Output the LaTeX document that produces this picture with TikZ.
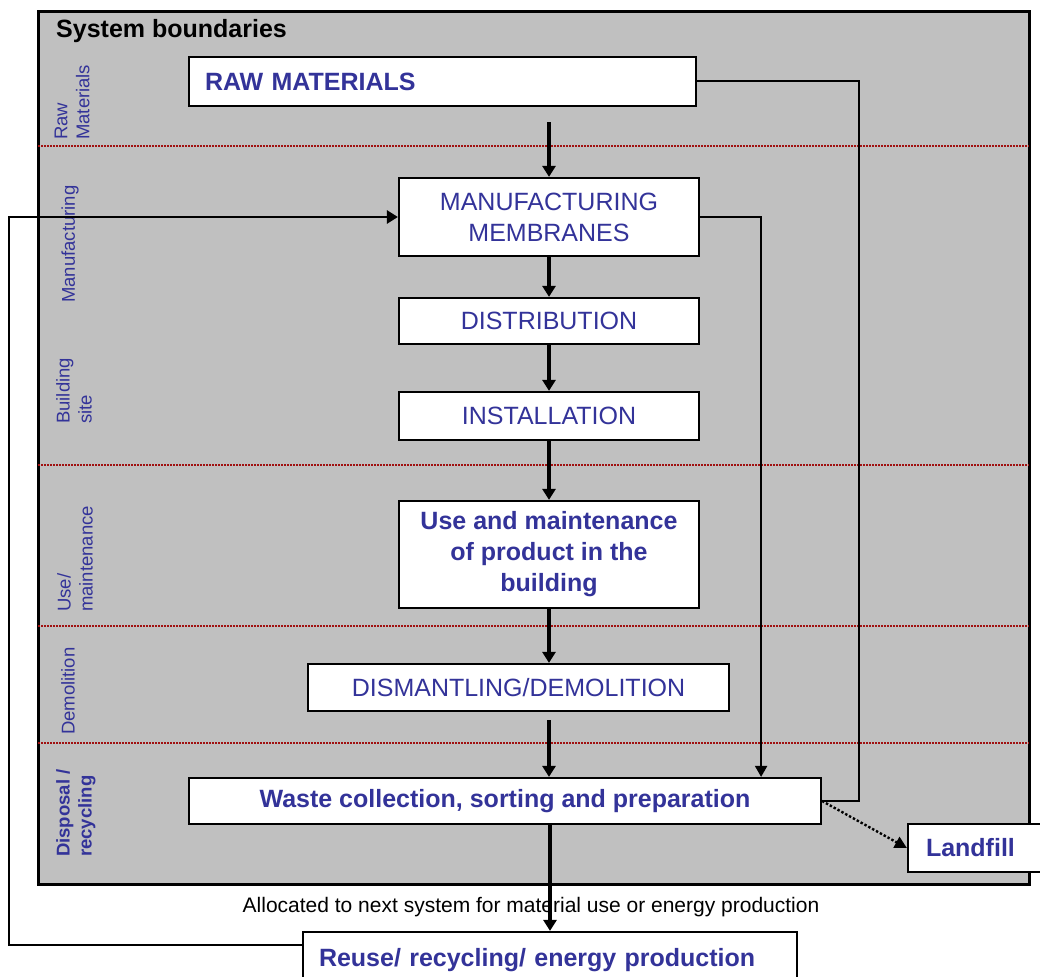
\documentclass[tikz,border=0pt]{standalone}
\usepackage{fontspec}
\setmainfont{Liberation Sans}
\usetikzlibrary{arrows.meta,positioning,calc}
\definecolor{PhaseGrey}{HTML}{C0C0C0}
\definecolor{StepBlue}{HTML}{333399}
\definecolor{PhaseRed}{HTML}{A01010}

\begin{document}
\begin{tikzpicture}[x=1pt,y=-1pt,
    stage/.style={draw=black,line width=2.2pt,fill=white,inner sep=0pt,align=center,
                  text=StepBlue,font=\fontsize{25}{31}\selectfont},
    boldstage/.style={stage,font=\fontsize{25}{31}\selectfont\bfseries},
    phase/.style={rotate=90,anchor=west,align=left,inner sep=0pt,text=StepBlue,
                  font=\fontsize{18.5}{22}\selectfont},
    divider/.style={draw=PhaseRed,line width=1.6pt,dash pattern=on 2pt off 1pt},
    flow/.style={draw=black,line width=3.2pt,-{Triangle[length=11pt,width=13pt]}},
    side/.style={draw=black,line width=2pt},
    sidearr/.style={side,-{Triangle[length=11pt,width=12pt]}},
    dotarr/.style={draw=black,line width=2.4pt,dotted,-{Triangle[length=12pt,width=12pt]}}]
  \useasboundingbox (0,0) rectangle (1040,976);
  \clip (0,0) rectangle (1040,976);
  % system boundaries
  \filldraw[fill=PhaseGrey,draw=black,line width=3pt] (38,12) rectangle (1029,884);
  \node[anchor=west,inner sep=0pt,font=\fontsize{25}{30}\selectfont\bfseries] (title) at (56,31) {System boundaries};
  \foreach \y in {146,465,626,743}
    \draw[divider] (38,\y) -- (1029,\y);
  % life cycle phases
  \node[phase] (rawlbl)   at (72,140) {Raw\\Materials};
  \node[phase] (manulbl)  at (70,303) {Manufacturing};
  \node[phase] (sitelbl)  at (74,424) {Building\\site};
  \node[phase] (uselbl)   at (75,612) {Use/\\maintenance};
  \node[phase] (demolbl)  at (68,735) {Demolition};
  \node[phase,font=\fontsize{18.5}{22}\selectfont\bfseries] (displbl) at (76,857) {Disposal /\\recycling};
  % steps
  \node[boldstage,minimum width=507pt,minimum height=49pt,text width=475pt,align=left] (raw) at (442.5,81.5) {RAW MATERIALS};
  \node[stage,minimum width=300pt,minimum height=78pt] (manuf) at (549,217) {MANUFACTURING\\MEMBRANES};
  \node[stage,minimum width=300pt,minimum height=46pt] (dist)  at (549,321) {DISTRIBUTION};
  \node[stage,minimum width=300pt,minimum height=48pt] (inst)  at (549,416) {INSTALLATION};
  \node[boldstage,minimum width=300pt,minimum height=107pt] (use) at (549,554.5) {Use and maintenance\\of product in the\\building};
  \node[stage,minimum width=421pt,minimum height=47pt] (dism)  at (518.5,687.5) {DISMANTLING/DEMOLITION};
  \node[boldstage,minimum width=632pt,minimum height=46pt] (waste) at (505,801) {Waste collection, sorting and preparation};
  \node[boldstage,minimum width=142pt,minimum height=48pt,text width=106pt,align=left] (landfill) at (979,848) {Landfill};
  \node[font=\fontsize{21}{25}\selectfont,inner sep=0pt] (alloc) at (531,907) {Allocated to next system for material use or energy production};
  \node[boldstage,minimum width=494pt,minimum height=56pt,text width=462pt,align=left] (reuse) at (550,960) {Reuse/ recycling/ energy production};
  % connectors
  \draw[flow,shorten <=15pt] (raw.south -| manuf.north) -- (manuf.north);
  \draw[flow] (manuf) -- (dist);
  \draw[flow] (dist) -- (inst);
  \draw[flow] (inst) -- (use);
  \draw[flow] (use.south) -- (dism.north -| use.south);
  \draw[flow,shorten <=8pt] (dism.south -| use.south) -- (waste.north -| use.south);
  \draw[flow,line width=3.6pt] (waste.south -| reuse.north) -- (reuse.north);
  \draw[side] (raw.east) -- ++(162,0) |- (waste.east);
  \draw[sidearr] (manuf.east) -| ([xshift=-61pt]waste.north east);
  \draw[dotarr] (waste.east) -- (landfill.west);
  \draw[flow,line width=2.6pt] ([yshift=-14pt]reuse.north west) -- ++(-293,0) |- (manuf.west);
\end{tikzpicture}
\end{document}
